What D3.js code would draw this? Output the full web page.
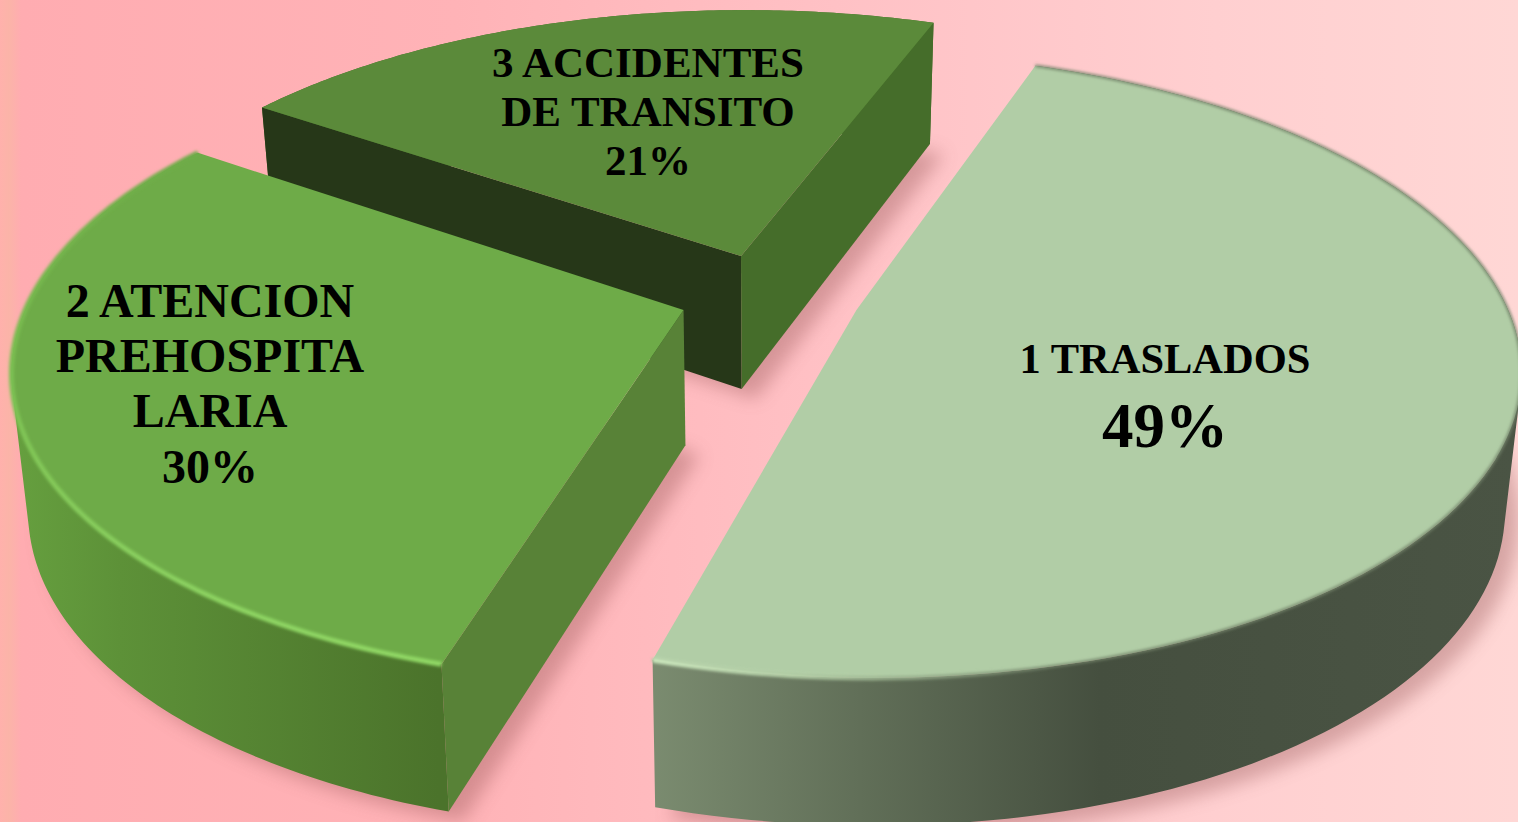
<!DOCTYPE html>
<html>
<head>
<meta charset="utf-8">
<script src="https://cdn.jsdelivr.net/npm/d3@7"></script>
<style>
  html, body { margin: 0; padding: 0; overflow: hidden; }
  svg { display: block; }
</style>
</head>
<body>
<script>
const categories = ["1 TRASLADOS", "2 ATENCION PREHOSPITALARIA", "3 ACCIDENTES DE TRANSITO"];
const values = [49, 30, 21];
const labelLines = [["1 TRASLADOS"], ["2 ATENCION", "PREHOSPITA", "LARIA"], ["3 ACCIDENTES", "DE TRANSITO"]];

const width = 1518, height = 822;

// perspective pie settings, tuned against the picture
const R = 665, tilt = 0.465, persp = 0.18, converge = 0.022;
const cx = 770, cy = 310;
const startDeg = 20;

const slices = d3.pie().sort(null).startAngle(startDeg * Math.PI / 180).endAngle((startDeg + 360) * Math.PI / 180)(values);

// world offset of each slice apex + colours and label placement
const styles = [
  { ox: 0.13, oy: 0, r: 0.98, top: "#b1cda6", wallA: null, wallB: null,
    stops: [[648, "#7b8c70"], [860, "#616f58"], [1100, "#454f3f"], [1518, "#4a5444"]],
    edge: "#74846a",
    rimAxis: "x", rimStops: [[648, "#cdeabf", 1], [800, "#c4e2b6", 0.75], [1050, "#b1cda6", 0]],
    lx: 1165, ly: [373], pctY: 447, size: 42.5, pctSize: 63 },
  { ox: -0.13, oy: 0, r: 0.99, top: "#6eab48", wallA: "#588237", wallB: null,
    stops: [[10, "#66a03f"], [120, "#5d9138"], [438, "#4b732b"]],
    edge: null,
    rimAxis: "y", rimStops: [[150, "#6eab48", 1], [375, "#7cc052", 1], [660, "#90d865", 1]],
    lx: 210, ly: [317, 372, 427], pctY: 483, size: 48, pctSize: 48 },
  { ox: -0.045, oy: 0.18, r: 0.995, top: "#5b8a3a", wallA: "#263718", wallB: "#456d2a",
    stops: [[265, "#456d2a"], [928, "#456d2a"]],
    edge: null, rimAxis: null, rimStops: null,
    lx: 648, ly: [77, 126], pctY: 175, size: 43, pctSize: 43 }
];

const x = d3.scaleLinear().domain([0, 1]).range([0, R]);
const y = d3.scaleLinear().domain([0, 1]).range([0, -R * tilt]);
const depth = d3.scaleLinear().domain([-1, 1.2]).range([148, 120]);

function project(wx, wy) {
  const w = 1 + persp * wy;
  return [cx + x(wx) / w, cy + y(wy) / w];
}
function drop(wx, wy) {
  const q = project(wx, wy);
  return [cx + (q[0] - cx) * (1 - converge), q[1] + depth(wy)];
}
function world(s, a) {
  return [s.ox + s.r * Math.sin(a), s.oy + s.r * Math.cos(a)];
}
const line = d3.line();

// wall as a run of quads, all wound the same way so the silhouette stays filled
function strip(topArc, botArc) {
  return d3.range(topArc.length - 1).map(k => {
    const quad = [topArc[k], topArc[k + 1], botArc[k + 1], botArc[k]];
    if (d3.polygonArea(quad) < 0) quad.reverse();
    return line(quad) + "Z";
  }).join("");
}

const svg = d3.select("body").append("svg")
  .attr("width", width)
  .attr("height", height)
  .attr("viewBox", [0, 0, width, height]);

const defs = svg.append("defs");

const bg = defs.append("linearGradient").attr("id", "bg")
  .attr("gradientUnits", "userSpaceOnUse")
  .attr("x1", 0).attr("x2", width).attr("y1", 0).attr("y2", 0);
[[0, "#ffb1ac"], [0.006, "#fbb4a8"], [0.014, "#ffacb1"], [0.3, "#ffb3b7"], [0.55, "#ffc1c5"], [0.8, "#ffcfd0"], [1, "#ffd7d5"]]
  .forEach(d => bg.append("stop").attr("offset", d[0]).attr("stop-color", d[1]));

defs.append("filter").attr("id", "blur").attr("x", "-10%").attr("y", "-10%").attr("width", "120%").attr("height", "120%")
  .append("feGaussianBlur").attr("stdDeviation", 9);
defs.append("filter").attr("id", "soft").attr("x", "-5%").attr("y", "-5%").attr("width", "110%").attr("height", "110%")
  .append("feGaussianBlur").attr("stdDeviation", 1.5);

svg.append("rect").attr("width", width).attr("height", height).attr("fill", "url(#bg)");

// back slice first, front slice last
const order = [2, 1, 0];

order.forEach(i => {
  const d = slices[i], s = styles[i];
  const a0 = d.startAngle, a1 = d.endAngle;
  const angles = d3.range(0, 121).map(t => a0 + (a1 - a0) * t / 120);
  const apexTop = project(s.ox, s.oy);
  const apexBot = drop(s.ox, s.oy);
  const topArc = angles.map(a => project(...world(s, a)));
  const botArc = angles.map(a => drop(...world(s, a)));

  const g = svg.append("g").attr("class", "slice");

  // soft shadow on the background
  g.append("path")
    .attr("d", line([apexBot, ...botArc]) + "Z")
    .attr("transform", "translate(14,10)")
    .attr("fill", "#8a4a4a")
    .attr("opacity", 0.35)
    .attr("filter", "url(#blur)");

  const lo = s.stops[0][0], hi = s.stops[s.stops.length - 1][0];
  const grad = defs.append("linearGradient").attr("id", "wall" + i)
    .attr("gradientUnits", "userSpaceOnUse")
    .attr("x1", lo).attr("x2", hi).attr("y1", 0).attr("y2", 0);
  const sx = d3.scaleLinear().domain([lo, hi]).range([0, 1]);
  s.stops.forEach(st => grad.append("stop").attr("offset", sx(st[0])).attr("stop-color", st[1]));

  // outer wall
  g.append("path")
    .attr("d", strip(topArc, botArc))
    .attr("fill", `url(#wall${i})`);

  // radial walls, only the ones the camera can see
  if (s.wallA) {
    g.append("path")
      .attr("d", line([apexTop, topArc[0], botArc[0], apexBot]) + "Z")
      .attr("fill", s.wallA);
  }
  if (s.wallB) {
    g.append("path")
      .attr("d", line([apexTop, topArc[120], botArc[120], apexBot]) + "Z")
      .attr("fill", s.wallB);
  }

  // top face
  g.append("path")
    .attr("d", line([apexTop, ...topArc]) + "Z")
    .attr("fill", s.top);

  if (s.edge) {
    g.append("path")
      .attr("d", line(topArc))
      .attr("fill", "none")
      .attr("stroke", s.edge)
      .attr("stroke-width", 2.5)
      .attr("filter", "url(#soft)");
  }

  // bevel highlight along the rim
  if (s.rimStops) {
    const rl = s.rimStops[0][0], rh = s.rimStops[s.rimStops.length - 1][0];
    const rimGrad = defs.append("linearGradient").attr("id", "rim" + i)
      .attr("gradientUnits", "userSpaceOnUse")
      .attr("x1", s.rimAxis == "x" ? rl : 0).attr("x2", s.rimAxis == "x" ? rh : 0)
      .attr("y1", s.rimAxis == "y" ? rl : 0).attr("y2", s.rimAxis == "y" ? rh : 0);
    const rs = d3.scaleLinear().domain([rl, rh]).range([0, 1]);
    s.rimStops.forEach(st => rimGrad.append("stop")
      .attr("offset", rs(st[0])).attr("stop-color", st[1]).attr("stop-opacity", st[2]));
    g.append("path")
      .attr("d", line(topArc))
      .attr("fill", "none")
      .attr("stroke", `url(#rim${i})`)
      .attr("stroke-width", 5)
      .attr("filter", "url(#soft)");
  }
});

// labels on top of everything
order.forEach(i => {
  const s = styles[i];
  const t = svg.append("g")
    .attr("font-family", "'Liberation Serif', serif")
    .attr("font-weight", "bold")
    .attr("text-anchor", "middle")
    .attr("fill", "#000");
  labelLines[i].forEach((txt, j) => {
    t.append("text").attr("x", s.lx).attr("y", s.ly[j]).attr("font-size", s.size).text(txt);
  });
  t.append("text").attr("x", s.lx).attr("y", s.pctY).attr("font-size", s.pctSize).text(values[i] + "%");
});
</script>
</body>
</html>
